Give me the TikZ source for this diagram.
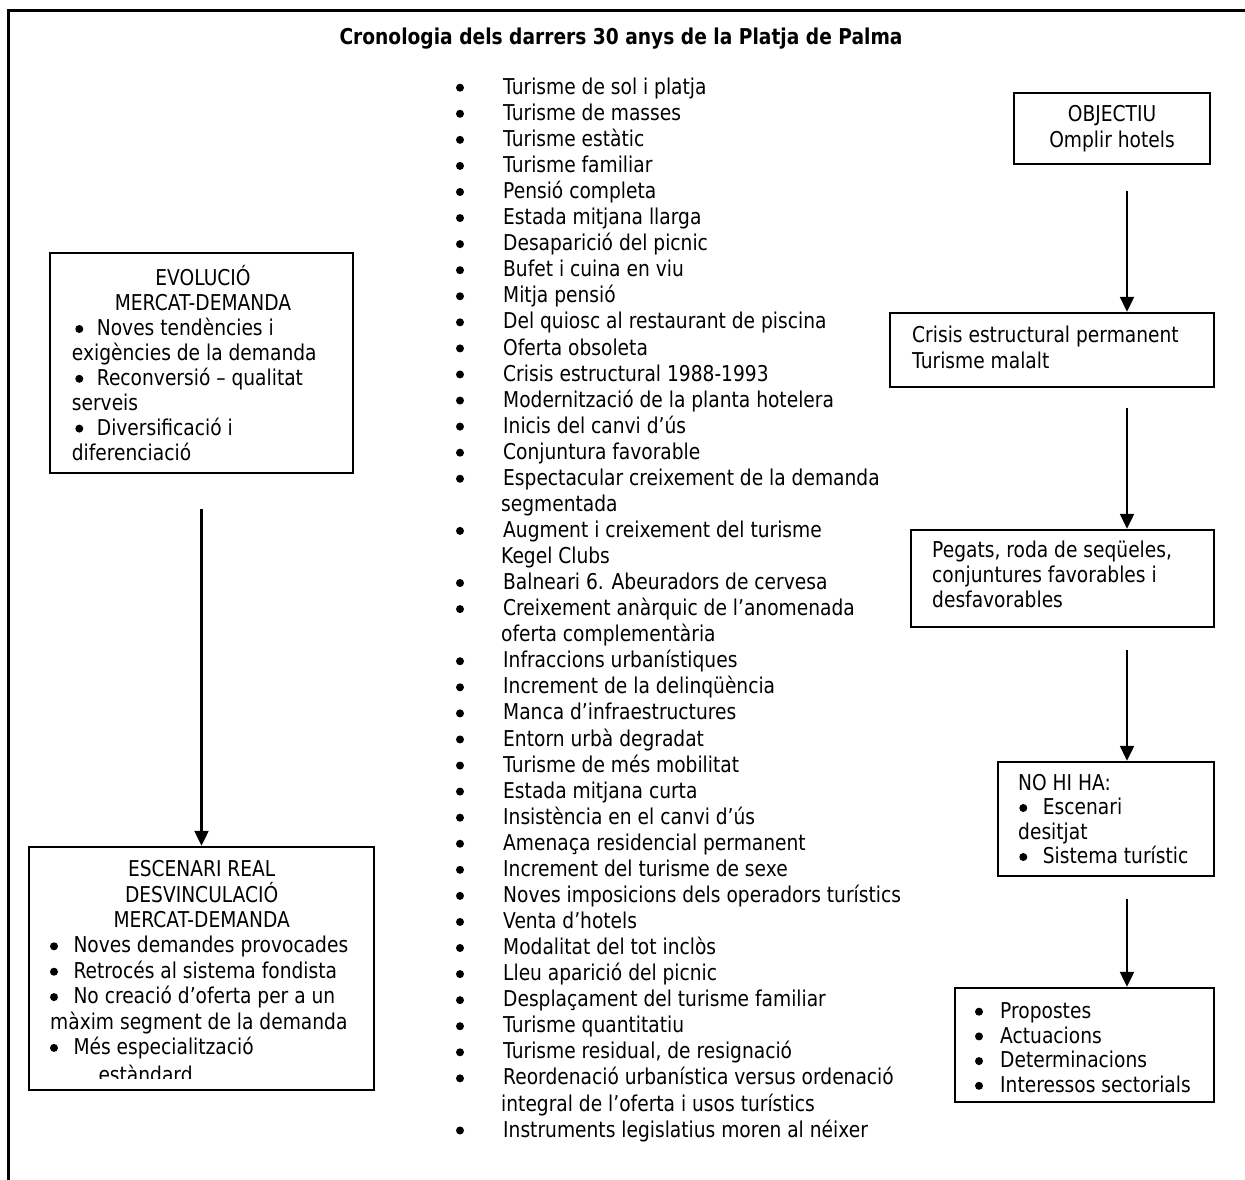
\documentclass[tikz,border=0pt]{standalone}
\usepackage{fontspec}
\setmainfont{DejaVu Sans}[FakeStretch=0.855]
\usetikzlibrary{arrows.meta,fit,calc}

% one item of the chronology list: bullet plus first line
\newcommand\cronitem[2]{%
  \node[dot] (b#1) at (460,{87.7+26.07*#1}) {};
  \node[ln] (t#1) at (503,{94.3+26.07*#1}) {#2};}
% continuation line of an item
\newcommand\croncont[2]{%
  \node[ln] (t#1) at (501,{94.3+26.07*#1}) {#2};}

\begin{document}
\begin{tikzpicture}[x=1pt,y=-1pt,
  font=\fontsize{21.8pt}{26pt}\selectfont,
  boxframe/.style={draw, line width=2.4pt, inner sep=0pt, rectangle},
  ln/.style={anchor=base west, inner sep=0pt},
  lc/.style={anchor=base, inner sep=0pt},
  dot/.style={circle, fill, inner sep=0pt, minimum size=8pt},
  arr/.style={line width=2.2pt, -{Triangle[length=15pt,width=14pt]}}]

\fill[white] (0,0) rectangle (1245,1180);
\useasboundingbox (0,0) rectangle (1245,1180);

% outer frame (open to the right and bottom)
\draw[line width=3pt] (8,1190) -- (8,11) -- (1255,11);

% title
\node[lc, font=\fontsize{21.8pt}{26pt}\selectfont\bfseries] (title) at (621,45)
  {Cronologia dels darrers 30 anys de la Platja de Palma};

% ---------- left column ----------
\node[boxframe, fit={(50,253) (353,473)}] (evol) {};
\node[lc] (e0) at (203,285.7) {EVOLUCIÓ};
\node[lc] (e1) at (203,310.6) {MERCAT-DEMANDA};
\node[dot] (eb2) at (79.3,329.0) {};
\node[ln] (e2) at (96.7,335.5) {Noves tendències i};
\node[ln] (e3) at (71.7,360.4) {exigències de la demanda};
\node[dot] (eb4) at (79.3,378.8) {};
\node[ln] (e4) at (96.7,385.3) {Reconversió – qualitat};
\node[ln] (e5) at (71.7,410.2) {serveis};
\node[dot] (eb6) at (79.3,428.6) {};
\node[ln] (e6) at (96.7,435.1) {Diversificació i};
\node[ln] (e7) at (71.7,460.0) {diferenciació};

\node[boxframe, fit={(29,847) (374,1090)}] (escen) {};
\node[lc] (s0) at (201.7,876.7) {ESCENARI REAL};
\node[lc] (s1) at (201.7,902.1) {DESVINCULACIÓ};
\node[lc] (s2) at (201.7,927.5) {MERCAT-DEMANDA};
\node[dot] (sb3) at (54,946.3) {};
\node[ln] (s3) at (73.3,952.9) {Noves demandes provocades};
\node[dot] (sb4) at (54,971.7) {};
\node[ln] (s4) at (73.3,978.3) {Retrocés al sistema fondista};
\node[dot] (sb5) at (54,997.1) {};
\node[ln] (s5) at (73.3,1003.7) {No creació d’oferta per a un};
\node[ln] (s6) at (50,1029.1) {màxim segment de la demanda};
\node[dot] (sb7) at (54,1047.9) {};
\node[ln] (s7) at (73.3,1054.5) {Més especialització};
\begin{scope}
  % the last line is cut off by the bottom of its text area
  \clip (29,847) rectangle (374,1078.5);
  \node[ln] (s8) at (98.3,1082) {estàndard};
\end{scope}

\draw[arr] ([yshift=-35pt]evol.south) -- (escen.north);

% ---------- middle column: chronology ----------
\cronitem{0}{Turisme de sol i platja}
\cronitem{1}{Turisme de masses}
\cronitem{2}{Turisme estàtic}
\cronitem{3}{Turisme familiar}
\cronitem{4}{Pensió completa}
\cronitem{5}{Estada mitjana llarga}
\cronitem{6}{Desaparició del picnic}
\cronitem{7}{Bufet i cuina en viu}
\cronitem{8}{Mitja pensió}
\cronitem{9}{Del quiosc al restaurant de piscina}
\cronitem{10}{Oferta obsoleta}
\cronitem{11}{Crisis estructural 1988-1993}
\cronitem{12}{Modernització de la planta hotelera}
\cronitem{13}{Inicis del canvi d’ús}
\cronitem{14}{Conjuntura favorable}
\cronitem{15}{Espectacular creixement de la demanda}
\croncont{16}{segmentada}
\cronitem{17}{Augment i creixement del turisme}
\croncont{18}{Kegel Clubs}
\cronitem{19}{Balneari 6. Abeuradors de cervesa}
\cronitem{20}{Creixement anàrquic de l’anomenada}
\croncont{21}{oferta complementària}
\cronitem{22}{Infraccions urbanístiques}
\cronitem{23}{Increment de la delinqüència}
\cronitem{24}{Manca d’infraestructures}
\cronitem{25}{Entorn urbà degradat}
\cronitem{26}{Turisme de més mobilitat}
\cronitem{27}{Estada mitjana curta}
\cronitem{28}{Insistència en el canvi d’ús}
\cronitem{29}{Amenaça residencial permanent}
\cronitem{30}{Increment del turisme de sexe}
\cronitem{31}{Noves imposicions dels operadors turístics}
\cronitem{32}{Venta d’hotels}
\cronitem{33}{Modalitat del tot inclòs}
\cronitem{34}{Lleu aparició del picnic}
\cronitem{35}{Desplaçament del turisme familiar}
\cronitem{36}{Turisme quantitatiu}
\cronitem{37}{Turisme residual, de resignació}
\cronitem{38}{Reordenació urbanística versus ordenació}
\croncont{39}{integral de l’oferta i usos turístics}
\cronitem{40}{Instruments legislatius moren al néixer}

% ---------- right column ----------
\coordinate (rx) at (1127,0);

\node[boxframe, fit={(1014,93) (1210,164)}] (obj) {};
\node[lc] (o0) at (1112,122) {OBJECTIU};
\node[lc] (o1) at (1112,148) {Omplir hotels};

\node[boxframe, fit={(890,313) (1214,387)}] (crisis) {};
\node[ln] (c0) at (912,342.7) {Crisis estructural permanent};
\node[ln] (c1) at (912,368.8) {Turisme malalt};

\node[boxframe, fit={(911,530) (1214,627)}] (pegats) {};
\node[ln] (p0) at (932,557) {Pegats, roda de seqüeles,};
\node[ln] (p1) at (932,582) {conjuntures favorables i};
\node[ln] (p2) at (932,607) {desfavorables};

\node[boxframe, fit={(998,762) (1214,876)}] (nohiha) {};
\node[ln] (n0) at (1018,790) {NO HI HA:};
\node[dot] (nb1) at (1023.3,808) {};
\node[ln] (n1) at (1042.7,814.5) {Escenari};
\node[ln] (n2) at (1018,839) {desitjat};
\node[dot] (nb3) at (1023.3,857) {};
\node[ln] (n3) at (1042.7,863.5) {Sistema turístic};

\node[boxframe, fit={(955,988) (1214,1102)}] (prop) {};
\node[dot] (qb0) at (979,1011.7) {};
\node[ln] (q0) at (1000,1018.3) {Propostes};
\node[dot] (qb1) at (979,1036.4) {};
\node[ln] (q1) at (1000,1043.0) {Actuacions};
\node[dot] (qb2) at (979,1061.1) {};
\node[ln] (q2) at (1000,1067.7) {Determinacions};
\node[dot] (qb3) at (979,1085.8) {};
\node[ln] (q3) at (1000,1092.4) {Interessos sectorials};

\draw[arr] ($(rx |- obj.south)+(0,26)$) -- (rx |- crisis.north);
\draw[arr] ($(rx |- crisis.south)+(0,20)$) -- (rx |- pegats.north);
\draw[arr] ($(rx |- pegats.south)+(0,22)$) -- (rx |- nohiha.north);
\draw[arr] ($(rx |- nohiha.south)+(0,22)$) -- (rx |- prop.north);

\end{tikzpicture}
\end{document}
